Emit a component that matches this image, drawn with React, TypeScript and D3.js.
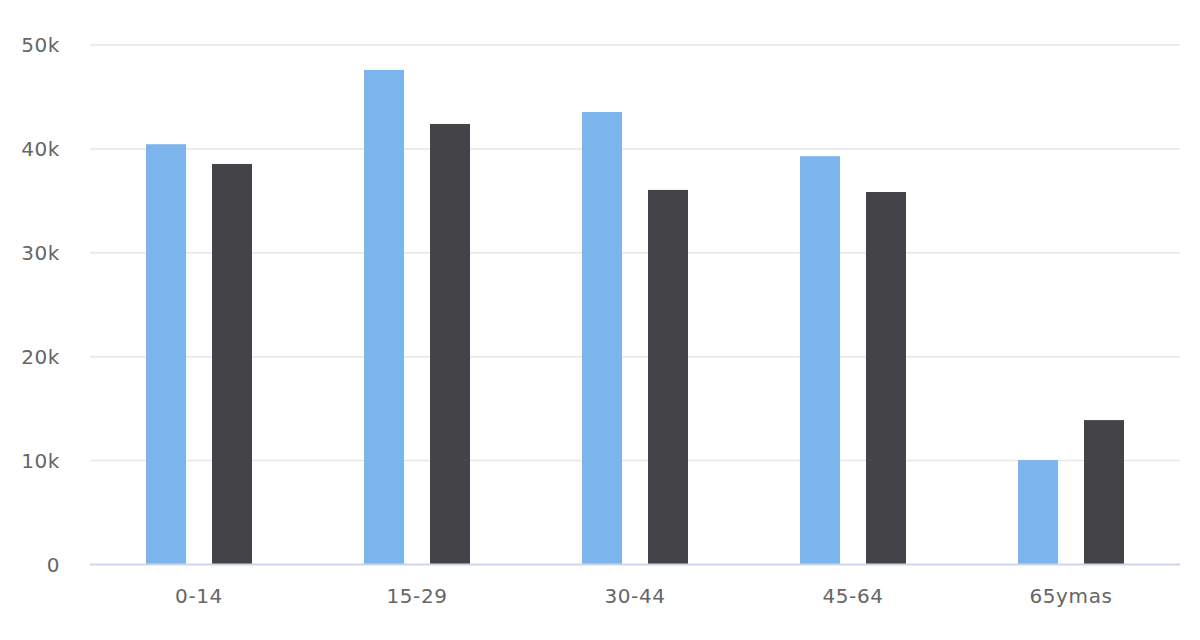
import React from "react";
import * as d3 from "d3";

const categories = ["0-14", "15-29", "30-44", "45-64", "65ymas"];
const seriesA = [40450, 47600, 43550, 39300, 10050];
const seriesB = [38550, 42400, 36050, 35850, 13900];
const yTicks = [0, 10000, 20000, 30000, 40000, 50000];
const yTickLabels = ["0", "10k", "20k", "30k", "40k", "50k"];

const W = 1200;
const H = 640;
const left = 90;
const right = 1180;
const top = 45;
const bottom = 564.5;

export default function App() {
  const x = d3.scaleBand<string>().domain(categories).range([left, right]).padding(0);
  const y = d3.scaleLinear().domain([0, 50000]).range([bottom, top]);
  const bw = 40;
  const off = 13;
  const font = "'DejaVu Sans', sans-serif";
  return (
    <svg width={W} height={H} style={{ position: "absolute", left: 0, top: 0, background: "#fff" }}>
      <rect x={0} y={0} width={W} height={H} fill="#ffffff" />
      {yTicks.map((t, i) =>
        t === 0 ? null : (
          <line key={"g" + i} x1={left} x2={right} y1={y(t)} y2={y(t)} stroke="#e6e6e6" strokeWidth={1.5} />
        )
      )}
      {categories.map((c, i) => {
        const cx = (x(c) as number) + x.bandwidth() / 2;
        return (
          <g key={c}>
            <rect x={cx - off - bw} y={y(seriesA[i])} width={bw} height={bottom - y(seriesA[i])} fill="#7cb5ec" />
            <rect x={cx + off} y={y(seriesB[i])} width={bw} height={bottom - y(seriesB[i])} fill="#434348" />
          </g>
        );
      })}
      <line x1={left} x2={right} y1={bottom} y2={bottom} stroke="#ccd6eb" strokeWidth={2} />
      {yTicks.map((t, i) => (
        <text
          key={"yl" + i}
          x={60}
          y={y(t)}
          dy="0.36em"
          textAnchor="end"
          fill="#666666"
          fontFamily={font}
          fontSize={20}
          letterSpacing={0.6}
        >
          {yTickLabels[i]}
        </text>
      ))}
      {categories.map((c) => (
        <text
          key={"xl" + c}
          x={(x(c) as number) + x.bandwidth() / 2}
          y={603}
          textAnchor="middle"
          fill="#666666"
          fontFamily={font}
          fontSize={20}
          letterSpacing={0.6}
        >
          {c}
        </text>
      ))}
    </svg>
  );
}
